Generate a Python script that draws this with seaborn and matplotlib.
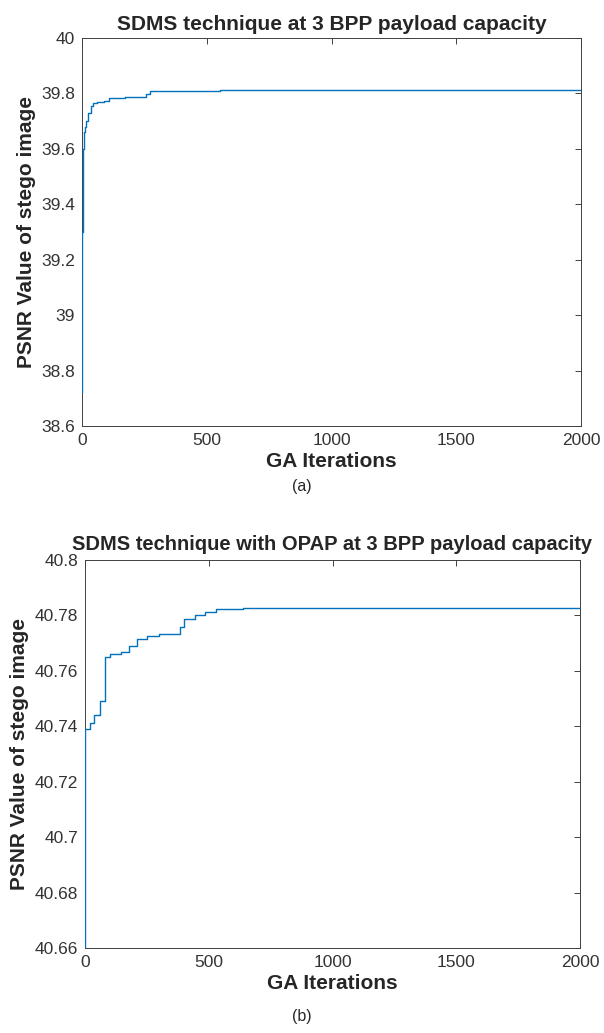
import numpy as np
import pandas as pd
import matplotlib
matplotlib.use("Agg")
import matplotlib.pyplot as plt
import seaborn as sns

# ---- data ----
iters_a = [0, 1, 2, 4, 8, 12, 18, 25, 35, 45, 60, 87, 107, 174, 258, 274, 555, 2000]
psnr_a = [38.72, 38.95, 39.30, 39.60, 39.66, 39.68, 39.70, 39.73, 39.755, 39.764, 39.768,
          39.773, 39.782, 39.786, 39.798, 39.810, 39.813, 39.814]

iters_b = [0, 2, 21, 35, 61, 79, 99, 146, 177, 210, 250, 301, 382, 402, 443, 484, 531, 640, 2000]
psnr_b = [40.66, 40.739, 40.741, 40.744, 40.749, 40.7648, 40.766, 40.7665, 40.769, 40.7714,
          40.7726, 40.773, 40.7758, 40.7786, 40.780, 40.7812, 40.7822, 40.7826, 40.7826]

titles = ["SDMS technique at 3 BPP payload capacity",
          "SDMS technique with OPAP at 3 BPP payload capacity"]
xlabel = "GA Iterations"
ylabel = "PSNR Value of stego image"
captions = ["(a)", "(b)"]
yticks_a = [38.6, 38.8, 39, 39.2, 39.4, 39.6, 39.8, 40]
yticks_b = [40.66, 40.68, 40.7, 40.72, 40.74, 40.76, 40.78, 40.8]
xticks = [0, 500, 1000, 1500, 2000]

sns.set_style("white")
plt.rcParams['font.family'] = ['Liberation Sans', 'DejaVu Sans']

line_color = "#0072BD"
axis_color = "#404040"

fig = plt.figure(figsize=(6.04, 10.33), dpi=100)
ax_a = fig.add_axes([82/604, 1-426/1033, 499/604, 388/1033])
ax_b = fig.add_axes([85/604, 1-948/1033, 495/604, 388.5/1033])

df_a = pd.DataFrame({"iter": iters_a, "psnr": psnr_a})
df_b = pd.DataFrame({"iter": iters_b, "psnr": psnr_b})

for ax, df, yt, ylim, title, cap, capy, tpad in [
        (ax_a, df_a, yticks_a, (38.6, 40), titles[0], captions[0], 487, 6),
        (ax_b, df_b, yticks_b, (40.66, 40.8), titles[1], captions[1], 1017, 7)]:
    sns.lineplot(data=df, x="iter", y="psnr", ax=ax, color=line_color,
                 linewidth=1.0, drawstyle="steps-post", estimator=None, sort=False,
                 zorder=3)
    ax.set_xlim(0, 2000)
    ax.set_ylim(*ylim)
    ax.set_xticks(xticks)
    ax.set_yticks(yt)
    ax.set_yticklabels([f"{v:g}" for v in yt])
    ax.set_title(title, fontsize=15 if ax is ax_a else 14.5, fontweight="bold", pad=tpad)
    ax.set_xlabel(xlabel, fontsize=15, fontweight="bold", labelpad=3)
    ax.set_ylabel(ylabel, fontsize=15, fontweight="bold", labelpad=4)
    ax.tick_params(direction="in", length=4, width=0.7, colors=axis_color,
                   labelsize=12.5, top=True, right=True, labelcolor="#333333", pad=5)
    for s in ax.spines.values():
        s.set_visible(True)
        s.set_color(axis_color)
        s.set_linewidth(0.7)
    fig.text(0.5, 1 - capy/1033, cap, ha="center", va="center", fontsize=11.5)

fig.savefig("out.png", dpi=100, facecolor="white")
